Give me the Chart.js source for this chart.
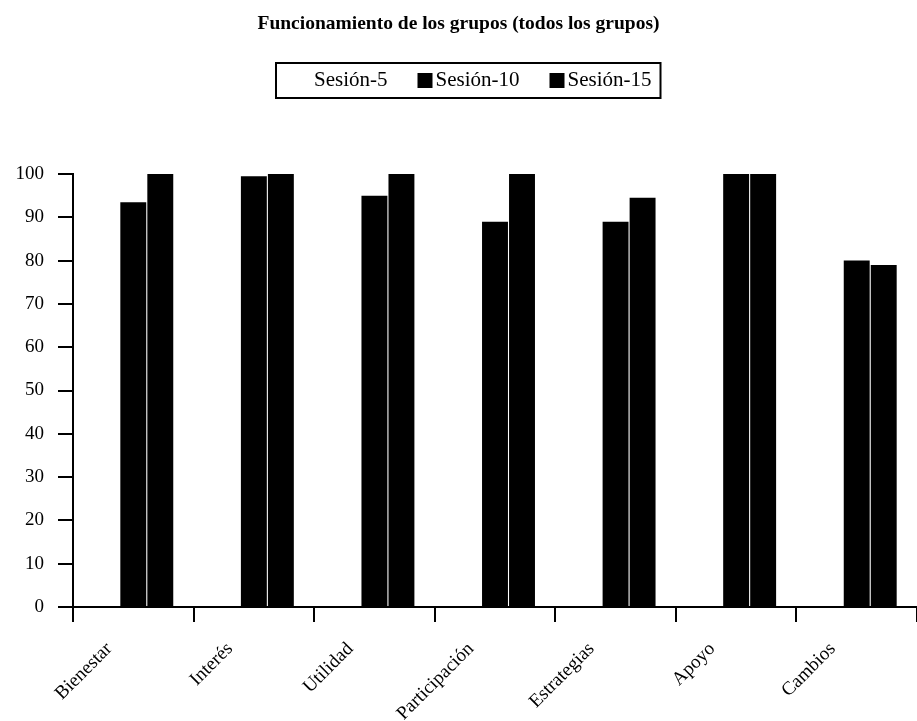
<!DOCTYPE html>
<html>
<head>
<meta charset="utf-8">
<script src="https://cdn.jsdelivr.net/npm/chart.js@4.4.1/dist/chart.umd.min.js"></script>
<style>
  html, body { margin: 0; padding: 0; background: #fff; }
  #wrap { width: 917px; height: 721px; }
</style>
</head>
<body>
<div id="wrap"><canvas id="c" width="917" height="721"></canvas></div>
<script>
// Group functioning scores (%) per item, by session
const categories = ['Bienestar', 'Interés', 'Utilidad', 'Participación', 'Estrategias', 'Apoyo', 'Cambios'];
const seriesNames = ['Sesión-5', 'Sesión-10', 'Sesión-15'];
const sesion5 = [0, 0, 0, 0, 0, 0, 0];
const sesion10 = [93.5, 99.5, 95, 89, 89, 100, 80];
const sesion15 = [100, 100, 100, 100, 94.5, 100, 79];
const yTicks = [0, 10, 20, 30, 40, 50, 60, 70, 80, 90, 100];
const titleText = 'Funcionamiento de los grupos (todos los grupos)';

const SERIF = '"Liberation Serif", "Times New Roman", serif';

// Legend drawn inside a framed box, one swatch + label per dataset
const boxedLegend = {
  id: 'boxedLegend',
  afterDraw(chart, args, opts) {
    const ctx = chart.ctx;
    ctx.save();
    ctx.font = opts.fontSize + 'px ' + SERIF;
    ctx.textBaseline = 'middle';
    ctx.textAlign = 'left';
    const cy = opts.top + opts.height / 2;
    let x = opts.left + opts.insetLeft;
    chart.data.datasets.forEach((ds, i) => {
      ctx.fillStyle = ds.backgroundColor;
      ctx.fillRect(x, cy - opts.swatch / 2, opts.swatch, opts.swatch);
      x += opts.swatch + opts.gap;
      ctx.fillStyle = '#000';
      ctx.fillText(ds.label, x, cy);
      x += ctx.measureText(ds.label).width;
      if (i < chart.data.datasets.length - 1) x += opts.spacing;
    });
    const right = x + opts.insetRight;
    ctx.lineWidth = 2;
    ctx.strokeStyle = '#000';
    ctx.strokeRect(opts.left, opts.top, right - opts.left, opts.height);
    ctx.restore();
  }
};

const tickFont = { family: SERIF, size: 19 };

new Chart(document.getElementById('c'), {
  type: 'bar',
  data: {
    labels: categories,
    datasets: [
      { label: seriesNames[0], data: sesion5, backgroundColor: '#ffffff' },
      { label: seriesNames[1], data: sesion10, backgroundColor: '#000000' },
      { label: seriesNames[2], data: sesion15, backgroundColor: '#000000' }
    ]
  },
  options: {
    responsive: false,
    animation: false,
    events: [],
    datasets: {
      bar: { barPercentage: 0.96, categoryPercentage: 0.672, borderWidth: 0 }
    },
    layout: { padding: { left: 0, right: 0, top: 0, bottom: 0 } },
    plugins: {
      legend: { display: false },
      tooltip: { enabled: false },
      title: {
        display: true,
        text: titleText,
        color: '#000',
        font: { family: SERIF, size: 19.5, weight: 'bold' },
        padding: { top: 12, bottom: 138.6 }
      },
      boxedLegend: {
        left: 276, top: 63, height: 35,
        insetLeft: 20, insetRight: 9,
        swatch: 15, gap: 3, spacing: 30, fontSize: 21
      }
    },
    scales: {
      x: {
        grid: {
          display: true, offset: true, drawOnChartArea: false, drawTicks: true,
          tickLength: 15, color: '#000', lineWidth: 2
        },
        border: { display: true, color: '#000', width: 2 },
        ticks: {
          color: '#000', font: tickFont, autoSkip: false,
          minRotation: 45, maxRotation: 45, padding: 16, labelOffset: -24
        },
        afterFit(scale) { scale.height = 114; }
      },
      y: {
        min: 0, max: 100,
        afterBuildTicks(scale) { scale.ticks = yTicks.map(v => ({ value: v })); },
        grid: {
          display: true, drawOnChartArea: false, drawTicks: true,
          tickLength: 15, color: '#000', lineWidth: 2
        },
        border: { display: true, color: '#000', width: 2 },
        ticks: { color: '#000', font: tickFont, padding: 14 },
        afterFit(scale) { scale.width = 73; }
      }
    }
  },
  plugins: [boxedLegend]
});
</script>
</body>
</html>
